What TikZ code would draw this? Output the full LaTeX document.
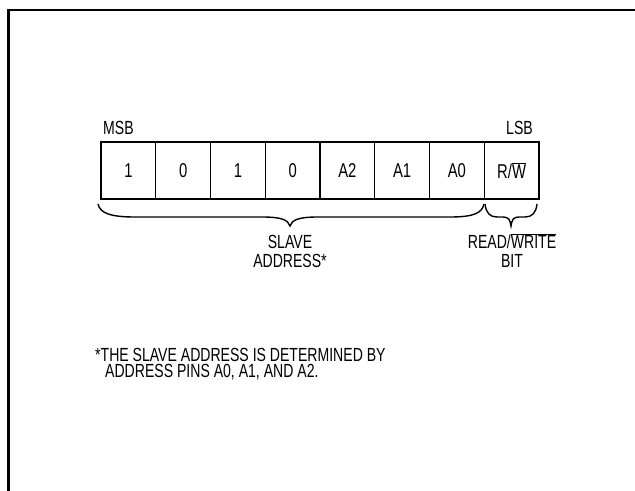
\documentclass[tikz,border=0pt]{standalone}
\usepackage{fontspec}
\setmainfont{Liberation Sans}[FakeStretch=0.74]
\begin{document}
\begin{tikzpicture}[x=1bp,y=-1bp,
  cell/.style={draw,line width=1.3bp,minimum width=54.75bp,minimum height=57bp,inner sep=0pt,font=\fontsize{20bp}{22bp}\selectfont},
  lbl/.style={inner sep=0pt,font=\fontsize{19bp}{19bp}\selectfont},
  brace/.style={line width=1.4bp}]
\useasboundingbox (0,0) rectangle (635,491);
\draw[line width=2.2bp] (8.5,491) -- (8.5,10) -- (635,10);
\foreach \t [count=\i] in {1,0,1,0,A2,A1,A0,{R/$\overline{\hbox{W}}$}}{
  \node[cell] (b\i) at ({101+54.75*(\i-0.5)},170.5) {\t};
}
\node[lbl,anchor=base west] (msb) at (103,135) {MSB};
\node[lbl,anchor=base east] (lsb) at (533,135) {LSB};
% big brace
\draw[brace] (98,204) .. controls (100,213) and (110,217) .. (135,217) -- (262,217)
  .. controls (282,217) and (288,220) .. (290,226)
  .. controls (292,220) and (298,217) .. (318,217) -- (450,217)
  .. controls (474,217) and (482,213) .. (484,204);
% small brace
\draw[brace] (485,204) .. controls (486,213) and (490,217) .. (497,217) -- (503,217)
  .. controls (509,217) and (510,220) .. (511,226)
  .. controls (512,220) and (513,217) .. (519,217) -- (525,217)
  .. controls (532,217) and (536,213) .. (537,204);
\node[lbl,anchor=base,align=center] (sl) at (290,267) {SLAVE\\[-0.5bp]ADDRESS*};
\node[lbl,anchor=base,align=center] (rw) at (512,267) {READ/$\overline{\hbox{WRITE}}$\\[-0.5bp]BIT};
\node[lbl,anchor=base west,align=left,font=\fontsize{19bp}{15.5bp}\selectfont] (fn) at (95,377)
  {*THE SLAVE ADDRESS IS DETERMINED BY\\\hspace*{10bp}ADDRESS PINS A0, A1, AND A2.};
\end{tikzpicture}
\end{document}
